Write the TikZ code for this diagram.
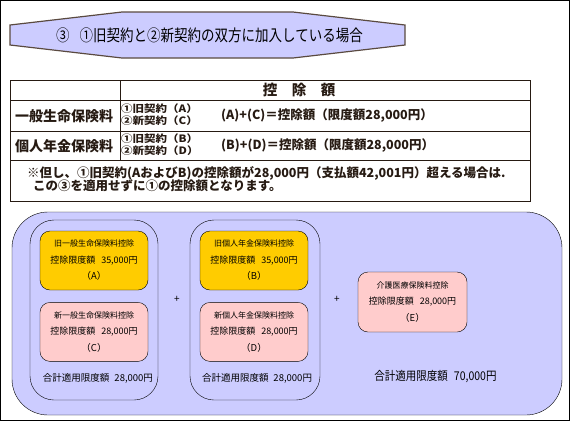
\documentclass[tikz,border=0pt]{standalone}
\usepackage{fontspec}
\setmainfont{Noto Sans CJK JP}
\usetikzlibrary{positioning}
\definecolor{lavender}{HTML}{CCCCFF}
\definecolor{oldgold}{HTML}{FFCC00}
\definecolor{newpink}{HTML}{FFCCCC}
\definecolor{inkbrown}{HTML}{261A12}
\definecolor{bannerline}{HTML}{5A4A40}
\tikzset{
    dedbox/.style={draw, rounded corners=10pt, minimum width=108pt, minimum height=59pt, align=center, inner sep=0pt, font=\fontsize{9}{16.5}\selectfont},
    oldbox/.style={dedbox, fill=oldgold},
    newbox/.style={dedbox, fill=newpink},
    groupframe/.style={draw, rounded corners=24pt},
    rowlabel/.style={anchor=west, inner sep=0pt, text=inkbrown, font=\fontsize{14}{14}\selectfont\bfseries},
    contract/.style={anchor=west, align=left, inner sep=0pt, text=inkbrown, font=\fontsize{11.5}{11.5}\selectfont\bfseries},
    formula/.style={anchor=west, inner sep=0pt, text=inkbrown, font=\fontsize{12.5}{12.5}\selectfont\bfseries},
    total/.style={inner sep=0pt, font=\fontsize{9.5}{9.5}\selectfont},
    plus/.style={inner sep=0pt, font=\fontsize{10}{10}\selectfont}
}
\newcommand{\boxhead}[1]{{\fontsize{8}{16.5}\selectfont #1}}
\newcommand{\boxtag}[1]{{\fontsize{9.5}{16.5}\selectfont （#1）}}
\newcommand{\twolines}[2]{\scalebox{1}[0.88]{\begin{tabular}{@{}l@{}}#1\\#2\end{tabular}}}

\begin{document}
\begin{tikzpicture}[x=1pt, y=-1pt]
    \useasboundingbox (0,0) rectangle (570,421);
    \draw[line width=1.2pt] (0.6,0.6) rectangle (569.4,420.4);
    % title banner
    \draw[fill=lavender, draw=bannerline, line width=1.2pt]
        (10,25) -- (122,12) -- (293,12) -- (405,25) -- (405,45) -- (293,58) -- (122,58) -- (10,45) -- cycle;
    \node[anchor=west, inner sep=0pt, font=\fontsize{13.5}{13.5}\selectfont] (title) at (56,35)
        {\scalebox{1}[1.2]{③\hspace{10pt}①旧契約と②新契約の双方に加入している場合}};

    % table
    \begin{scope}[draw=inkbrown, line width=0.9pt]
        \draw (10,80) rectangle (530,201);
        \draw (10,100) -- (530,100);
        \draw (10,131) -- (530,131);
        \draw (10,160) -- (530,160);
        \draw (120,80) -- (120,160);
    \end{scope}
    \node[inner sep=0pt, text=inkbrown, font=\fontsize{14.5}{14.5}\selectfont\bfseries] (head) at (299,90) {控　除　額};
    \node[rowlabel] (lifelabel) at (15,116) {一般生命保険料};
    \node[contract] (lifecontract) at (121,115.5) {\twolines{①旧契約（A）}{②新契約（C）}};
    \node[formula] (lifeformula) at (221,116) {(A)+(C)＝控除額（限度額28,000円）};
    \node[rowlabel] (pensionlabel) at (15,146) {個人年金保険料};
    \node[contract] (pensioncontract) at (121,145.5) {\twolines{①旧契約（B）}{②新契約（D）}};
    \node[formula] (pensionformula) at (221,146) {(B)+(D)＝控除額（限度額28,000円）};
    \node[formula] (note1) at (27,173) {※但し、①旧契約(AおよびB)の控除額が28,000円（支払額42,001円）超える場合は.};
    \node[formula] (note2) at (33,186) {この③を適用せずに①の控除額となります。};

    % deduction limits
    \draw[fill=lavender, rounded corners=36pt] (12,212) rectangle (562,415);
    \draw[groupframe] (30,220) rectangle (158,400);
    \draw[groupframe] (190,220) rectangle (320,400);

    \node[oldbox] (oldlife) at (94,260.5) {\boxhead{旧一般生命保険料控除}\\控除限度額\hspace{6pt}35,000円\\\boxtag{A}};
    \node[newbox, below=12pt of oldlife] (newlife) {\boxhead{新一般生命保険料控除}\\控除限度額\hspace{6pt}28,000円\\\boxtag{C}};
    \node[total] (lifetotal) at (98,378) {合計適用限度額\hspace{5pt}28,000円};

    \node[oldbox] (oldpension) at (254,260.5) {\boxhead{旧個人年金保険料控除}\\控除限度額\hspace{6pt}35,000円\\\boxtag{B}};
    \node[newbox, below=12pt of oldpension] (newpension) {\boxhead{新個人年金保険料控除}\\控除限度額\hspace{6pt}28,000円\\\boxtag{D}};
    \node[total] (pensiontotal) at (257,378) {合計適用限度額\hspace{5pt}28,000円};

    \node[newbox, minimum width=109pt, minimum height=60pt] (care) at (412.5,302) {\boxhead{介護医療保険料控除}\\控除限度額\hspace{6pt}28,000円\\\boxtag{E}};
    \node[inner sep=0pt, font=\fontsize{10.5}{10.5}\selectfont] (grandtotal) at (435.5,377) {\scalebox{1}[1.15]{合計適用限度額\hspace{6pt}70,000円}};

    \node[plus] (plus1) at (177,299) {+};
    \node[plus] (plus2) at (337,299) {+};
\end{tikzpicture}
\end{document}
